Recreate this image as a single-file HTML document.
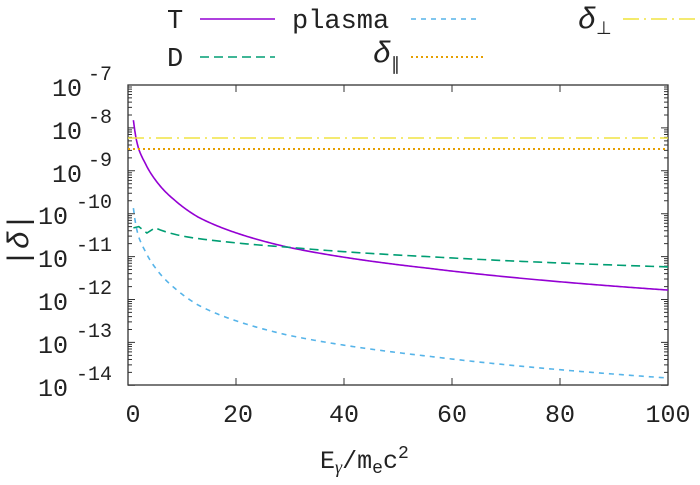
<!DOCTYPE html>
<html><head><style>
body{margin:0;background:#fff;}
svg text{font-family:"Liberation Mono",monospace;fill:#222;}
</style></head><body>
<svg id="s" width="700" height="480" xmlns="http://www.w3.org/2000/svg">
<rect x="128" y="85" width="540" height="300" fill="none" stroke="#333" stroke-width="1.3"/>
<g id="ticks" stroke="#333" stroke-width="1"></g>
<g id="curves" fill="none"></g>
<g font-size="25">
<text x="52" y="96">10</text><text x="88" y="80" font-size="20">-7</text>
<text x="52" y="139">10</text><text x="88" y="123" font-size="20">-8</text>
<text x="52" y="182">10</text><text x="88" y="166" font-size="20">-9</text>
<text x="38" y="224">10</text><text x="76" y="208" font-size="20">-10</text>
<text x="38" y="267">10</text><text x="76" y="251" font-size="20">-11</text>
<text x="38" y="310">10</text><text x="76" y="294" font-size="20">-12</text>
<text x="38" y="353">10</text><text x="76" y="337" font-size="20">-13</text>
<text x="38" y="396">10</text><text x="76" y="380" font-size="20">-14</text>
</g>
<g font-size="25" text-anchor="middle">
<text x="133" y="422">0</text><text x="238" y="422">20</text><text x="344" y="422">40</text>
<text x="452" y="422">60</text><text x="560" y="422">80</text><text x="668" y="422">100</text>
</g>
<text x="320" y="468" font-size="25">E<tspan font-size="18" dy="5" font-style="italic" font-family="Liberation Serif">γ</tspan><tspan dy="-5">/m</tspan><tspan font-size="18" dy="5">e</tspan><tspan dy="-5">c</tspan><tspan font-size="18" dy="-10">2</tspan></text>
<text transform="translate(28,240) rotate(-90)" font-size="30" text-anchor="middle" font-family="Liberation Serif" font-style="italic">|δ|</text>
<g font-size="27">
<text x="167" y="28">T</text>
<text x="167" y="66">D</text>
<text x="292" y="28">plasma</text>
<text x="373" y="62" font-family="Liberation Serif" font-style="italic" font-size="30">δ<tspan font-size="18" dy="8" font-style="normal">∥</tspan></text>
<text x="578" y="28" font-family="Liberation Serif" font-style="italic" font-size="30">δ<tspan font-size="18" dy="6" font-style="normal">⊥</tspan></text>
</g>
<line x1="200" y1="19" x2="275" y2="19" stroke="#9400d3" stroke-width="1.6"/>
<line x1="200" y1="57" x2="275" y2="57" stroke="#009e73" stroke-width="1.6" stroke-dasharray="9,5"/>
<line x1="411" y1="19" x2="480" y2="19" stroke="#56b4e9" stroke-width="1.6" stroke-dasharray="5,5"/>
<line x1="411" y1="57" x2="483" y2="57" stroke="#e69f00" stroke-width="2" stroke-dasharray="2,3"/>
<line x1="623" y1="19" x2="700" y2="19" stroke="#f0e442" stroke-width="1.6" stroke-dasharray="16,5,2,5"/>
</svg>
<script>
var ns="http://www.w3.org/2000/svg";
function X(x){return 128+5.4*x;}
function Y(l){return 85+(-7-l)*42.9;}
var tk=document.getElementById("ticks"),d="";
for(var i=0;i<=5;i++){var x=X(i*20);d+="M"+x+" 385v-7M"+x+" 85v7";}
for(var e=-14;e<-7;e++){for(var m=1;m<10;m++){var y=Y(e+Math.log10(m));var L=m==1?7:4;d+="M128 "+y+"h"+L+"M668 "+y+"h-"+L;}}
var p=document.createElementNS(ns,"path");p.setAttribute("d",d);tk.appendChild(p);
function addPath(pts,col,dash,w){var q=document.createElementNS(ns,"path");q.setAttribute("d","M"+pts.join("L"));q.setAttribute("stroke",col);q.setAttribute("stroke-width",w||1.6);if(dash)q.setAttribute("stroke-dasharray",dash);document.getElementById("curves").appendChild(q);}
function interp(tab,x){var lx=Math.log10(x);for(var i=0;i<tab.length-1;i++){var a=Math.log10(tab[i][0]),b=Math.log10(tab[i+1][0]);if(lx<=b){var t=(lx-a)/(b-a);return tab[i][1]+t*(tab[i+1][1]-tab[i][1]);}}return tab[tab.length-1][1];}
var TT=[[1,-7.82],[1.5,-8.25],[2,-8.5],[3.1,-8.8],[5,-9.2],[8.6,-9.68],[13,-10.08],[18.5,-10.38],[29.6,-10.78],[55.5,-11.27],[100,-11.78]];
var GG=[[5,-10.33],[10,-10.52],[18.5,-10.66],[29.6,-10.78],[55.5,-11.0],[100,-11.24]];
var a=[],b=[],c=[];
for(var x=1;x<=100;x+=0.25){a.push(X(x)+" "+Y(interp(TT,x)));b.push(X(x)+" "+Y(interp(TT,x)-2.05));}
c.push(X(1)+" "+Y(-10.33));c.push(X(2)+" "+Y(-10.30));c.push(X(3.5)+" "+Y(-10.45));
for(var x=5;x<=100;x+=1){c.push(X(x)+" "+Y(interp(GG,x)));}
addPath(a,"#9400d3");
addPath(c,"#009e73","9,5");
addPath(b,"#56b4e9","5,5");
addPath([X(0)+" 149",X(100)+" 149"],"#e69f00","2,3",2);
addPath([X(0)+" 138",X(100)+" 138"],"#f0e442","16,5,2,5");
</script>
</body></html>
